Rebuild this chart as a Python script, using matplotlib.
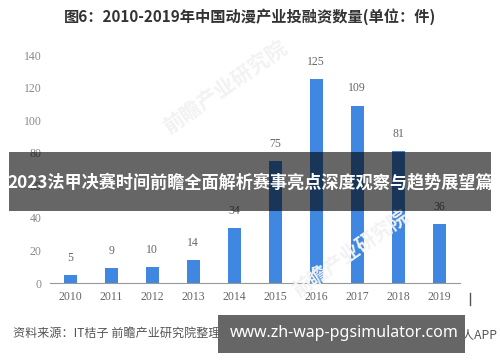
import matplotlib
matplotlib.use("Agg")
import matplotlib.pyplot as plt
from matplotlib.patches import Rectangle

#---------------------------------------------------
years = ["2010", "2011", "2012", "2013", "2014",
         "2015", "2016", "2017", "2018", "2019"]
counts = [5, 9, 10, 14, 34, 75, 125, 109, 81, 36]
yticks = [0, 20, 40, 60, 80, 100, 120, 140]

title = "图6：2010-2019年中国动漫产业投融资数量(单位：件)"
banner = "2023法甲决赛时间前瞻全面解析赛事亮点深度观察与趋势展望篇"
source = "资料来源：IT桔子 前瞻产业研究院整理"
site = "www.zh-wap-pgsimulator.com"
credit = "@前瞻经济学人APP"
watermark = "前瞻产业研究院"
#---------------------------------------------------

cjk = ["Noto Sans CJK SC", "DejaVu Sans"]
serif = ["Liberation Serif", "DejaVu Serif"]

fig = plt.figure(figsize=(5, 3.62), dpi=100)
fig.patch.set_facecolor("white")
ax = fig.add_axes([0.1, 0.218, 0.82, 0.63])

# faint watermarks behind the chart
for (wx, wy, s) in [(0.45, 0.76, 15), (0.7, 0.3, 14)]:
    fig.text(wx, wy, watermark, family=cjk, fontsize=s, color="#f2f2f2",
             rotation=35, ha="center", va="center", fontweight="bold", zorder=0)

x = range(len(years))
ax.bar(x, counts, width=0.32, color="#3f87e0", zorder=2)
for xi, v in zip(x, counts):
    ax.annotate(str(v), (xi, v), xytext=(0, 8), textcoords="offset points",
                ha="center", va="bottom", fontsize=8.5, color="#666666",
                family=serif)

ax.set_xlim(-0.49, 9.51)
ax.set_ylim(0, 140)
ax.set_xticks(list(x))
ax.set_xticklabels(years, family=serif, fontsize=8.5, color="#666666")
ax.set_yticks(yticks)
ax.set_yticklabels([str(t) for t in yticks], family=serif, fontsize=8.5, color="#888888")
ax.tick_params(length=0, pad=6)
for side in ["top", "right", "left"]:
    ax.spines[side].set_visible(False)
ax.spines["bottom"].set_color("#999999")
ax.patch.set_alpha(0)

# title and source
fig.text(0.5, 0.955, title, family=cjk, fontsize=11, fontweight="bold",
         color="#333333", ha="center", va="center")
fig.text(0.026, 0.08, source, family=cjk, fontsize=8.7, color="#555555",
         ha="left", va="center")
fig.text(0.995, 0.075, credit, family=cjk, fontsize=8.7, color="#555555",
         ha="right", va="center")
fig.add_artist(plt.Line2D([0.94, 0.94], [0.158, 0.19], color="#555555", lw=1))

# dark translucent banner over the middle
fig.add_artist(Rectangle((0.018, 0.417), 0.964, 0.163, transform=fig.transFigure,
                         facecolor="black", alpha=0.6, edgecolor="none", zorder=5))
fig.text(0.5, 0.497, banner, family=cjk, fontsize=12.3, fontweight="bold",
         color="white", ha="center", va="center", zorder=6)

# grey box with site address
fig.add_artist(Rectangle((0.436, 0.025), 0.494, 0.105, transform=fig.transFigure,
                         facecolor="#666666", edgecolor="none", zorder=5))
fig.text(0.688, 0.08, site, family=["Noto Sans", "DejaVu Sans"], fontsize=11.5,
         fontweight="bold", color="white", ha="center", va="center", zorder=6)

fig.savefig("out.png", dpi=100)
